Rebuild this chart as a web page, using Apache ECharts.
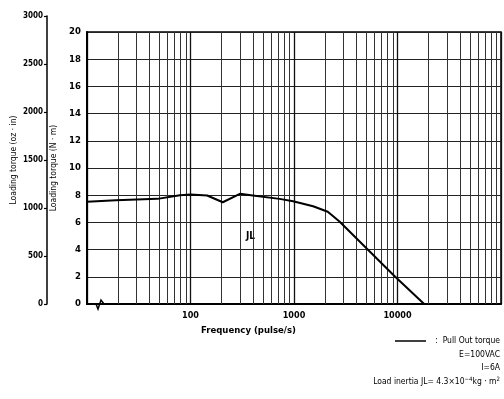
<!DOCTYPE html>
<html><head><meta charset="utf-8">
<script src="https://cdn.jsdelivr.net/npm/echarts@6/dist/echarts.min.js"></script>
<style>html,body{margin:0;padding:0;background:#fff}#c{width:504px;height:399px}</style>
</head><body><div id="c"></div>
<script>
// Data
const frequency = [10, 19, 48, 79, 100, 145, 205, 300, 400, 725, 980, 1530, 2120, 2750, 9500, 18100];
const pullOutTorque = [7.52, 7.63, 7.73, 8.0, 8.05, 7.98, 7.48, 8.1, 7.98, 7.73, 7.55, 7.19, 6.78, 6.07, 2.0, 0];
const xTickLabels = ['100', '1000', '10000'];
const nmRange = [0, 20, 2];
const ozinRange = [0, 3000, 500];

const FONT = '"DejaVu Sans Condensed", "Liberation Sans", sans-serif';
const data = frequency.map((f, i) => [f, pullOutTorque[i]]);

// minor log grid positions (2..9 per decade)
const minorGrid = [];
for (let d = 10; d < 100000; d *= 10) for (let k = 2; k <= 9; k++) minorGrid.push(d * k);

const chart = echarts.init(document.getElementById('c'), null, {renderer: 'canvas'});
chart.setOption({
  animation: false,
  backgroundColor: '#fff',
  textStyle: {fontFamily: FONT},
  grid: [
    {left: 87, right: 2, top: 32, bottom: 95, show: true, borderColor: '#000', borderWidth: 1.5, backgroundColor: 'transparent'},
    {left: 47, width: 1, top: 16, bottom: 95}
  ],
  xAxis: [
    {type: 'log', logBase: 10, min: 10, max: 100000, gridIndex: 0,
     axisLine: {show: true, lineStyle: {color: '#000', width: 2}},
     axisTick: {show: false},
     splitLine: {show: true, lineStyle: {color: '#111', width: 1.3}},
     axisLabel: {color: '#000', fontSize: 9, fontWeight: 'bold', fontFamily: FONT, margin: 7,
       formatter: v => (xTickLabels.indexOf(String(Math.round(v))) >= 0 ? String(Math.round(v)) : '')}},
    {type: 'value', gridIndex: 1, show: false, min: 0, max: 1}
  ],
  yAxis: [
    {type: 'value', gridIndex: 0, min: nmRange[0], max: nmRange[1], interval: nmRange[2],
     name: 'Loading torque (N · m)', nameLocation: 'middle', nameGap: 25,
     nameTextStyle: {color: '#000', fontSize: 8.5, fontFamily: FONT},
     axisLine: {show: true, lineStyle: {color: '#000', width: 2}},
     axisTick: {show: false},
     splitLine: {show: true, lineStyle: {color: '#222', width: 1}},
     axisLabel: {color: '#000', fontSize: 9.5, fontWeight: 'bold', fontFamily: FONT, margin: 6,
       formatter: v => String(v)}},
    {type: 'value', gridIndex: 1, min: ozinRange[0], max: ozinRange[1], interval: ozinRange[2],
     name: 'Loading torque (oz · in)', nameLocation: 'middle', nameGap: 29,
     nameTextStyle: {color: '#000', fontSize: 8.5, fontFamily: FONT},
     axisLine: {show: true, lineStyle: {color: '#000', width: 1.5}},
     axisTick: {show: true, length: 3, lineStyle: {color: '#000', width: 1.2}},
     splitLine: {show: false},
     axisLabel: {color: '#000', fontSize: 8, fontWeight: 'bold', fontFamily: FONT, margin: 4,
       formatter: v => String(v)}}
  ],
  series: [
    {type: 'line', xAxisIndex: 0, yAxisIndex: 0, data: data, symbol: 'none', smooth: false,
     lineStyle: {color: '#000', width: 2}, z: 5,
     markLine: {silent: true, symbol: 'none', label: {show: false},
       lineStyle: {color: '#333', width: 1, type: 'solid'},
       data: minorGrid.map(v => ({xAxis: v}))}}
  ],
  graphic: [
    {type: 'text', left: 246, top: 231, style: {text: 'JL', fill: '#000', font: 'bold 10px ' + FONT}},
    {type: 'text', left: 201, top: 326, style: {text: 'Frequency (pulse/s)', fill: '#000', font: 'bold 9.5px ' + FONT}},
    {type: 'polyline', shape: {points: [[88, 304], [96, 304], [98, 309], [101, 300], [104, 304]]}, style: {stroke: '#000', lineWidth: 1.5, fill: null}, z: 10},
    {type: 'line', shape: {x1: 395, y1: 341, x2: 426, y2: 341}, style: {stroke: '#000', lineWidth: 1.5}},
    {type: 'text', right: 4, top: 336, style: {text: ':  Pull Out torque', fill: '#000', font: '8.5px ' + FONT}},
    {type: 'text', right: 4, top: 350, style: {text: 'E=100VAC', fill: '#000', font: '8.5px ' + FONT}},
    {type: 'text', right: 4, top: 363, style: {text: 'I=6A', fill: '#000', font: '8.5px ' + FONT}},
    {type: 'text', right: 4, top: 376, style: {
      text: 'Load inertia JL= 4.3×10{s|−4}kg · m{s|2}', fill: '#000', font: '8.5px ' + FONT,
      rich: {s: {fontSize: 6, fontFamily: FONT, verticalAlign: 'top', padding: [0, 0, 6, 0]}}}}
  ]
});
</script>
</body></html>
